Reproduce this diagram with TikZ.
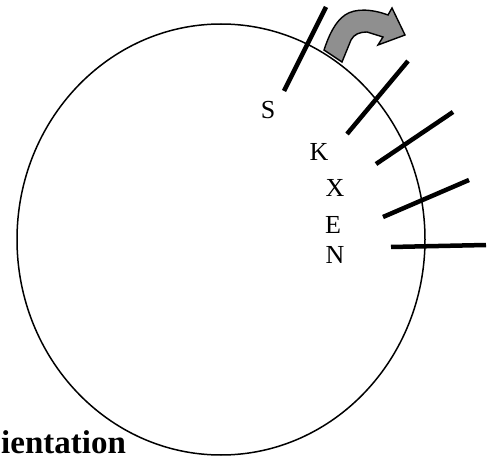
\documentclass[tikz,border=0pt]{standalone}
\usepackage{fontspec}
\setmainfont{Liberation Serif}
\usetikzlibrary{positioning}
\definecolor{ArrowGray}{HTML}{8F8F8F}

\begin{document}
\begin{tikzpicture}[
  x=1pt, y=-1pt,
  cell/.style={draw=black, line width=1.5pt},
  site/.style={draw=black, line width=4.5pt},
  gene/.style={font=\fontsize{26}{28}\selectfont, inner sep=0pt},
  turn/.style={draw=black, line width=1.4pt, fill=ArrowGray, line join=miter}
]
\useasboundingbox (0,0) rectangle (490,457);
% rotation arrow
\draw[turn] (342,62) -- (351,40) .. controls (354,34) and (360,32) .. (367,32)
  -- (383,37) -- (378,45) -- (405,35) -- (392,8) -- (388,15)
  .. controls (372,9) and (355,8) .. (345,15) .. controls (335,22) and (329,35) .. (324,50) -- cycle;
% cell outline
\draw[cell] (221,239.5) ellipse [x radius=204, y radius=215.5];
% binding sites
\draw[site] (326,7) -- (284,91);
\draw[site] (408,61) -- (347,134);
\draw[site] (453,112) -- (376,164);
\draw[site] (469,180) -- (383,217);
\draw[site] (391,247) -- (486,245);
% labels
\node[gene] (s) at (268,110) {S};
\node[gene] (k) at (319,152) {K};
\node[gene] (x) at (335,188) {X};
\node[gene] (e) at (333,225) {E};
\node[gene] (n) at (335,255) {N};
\node[font=\fontsize{33}{36}\selectfont\bfseries, inner sep=0pt, anchor=base west] (title) at (1,453) {ientation};
\end{tikzpicture}
\end{document}
